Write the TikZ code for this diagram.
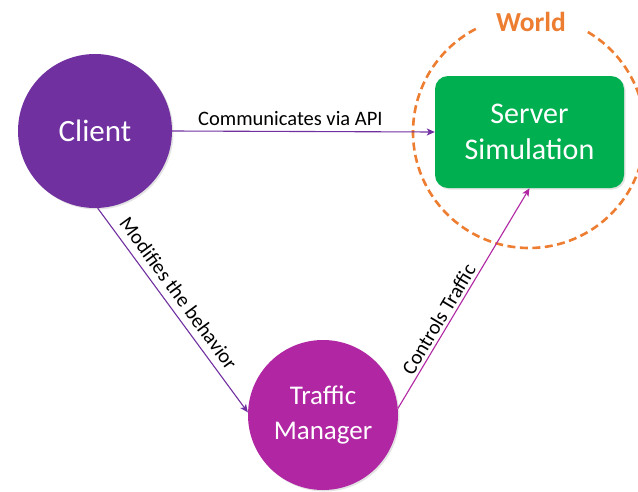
\documentclass[tikz,border=0pt]{standalone}
\usepackage{fontspec}
\setmainfont{Carlito}
\usetikzlibrary{arrows.meta,shadows}
\definecolor{cpurple}{RGB}{112,48,160}
\definecolor{tmmag}{RGB}{177,39,163}
\definecolor{sgreen}{RGB}{0,176,80}
\definecolor{worange}{RGB}{237,125,49}
\tikzset{
  shad/.style={drop shadow={opacity=0.22,shadow xshift=1.5pt,shadow yshift=-1.5pt}},
  bigcircle/.style={circle,inner sep=0pt,text=white,align=center,shad},
  conn/.style={line width=1.1pt,-{Stealth[length=8pt,width=7pt,inset=2pt]}},
  lbl/.style={font=\fontsize{20.5}{24}\selectfont,inner sep=2pt,text=black},
}
\begin{document}
\begin{tikzpicture}[x=1pt,y=-1pt]
\useasboundingbox[fill=white] (0,0) rectangle (638,491);
% world
\node[circle,draw=worange,line width=2.6pt,dash pattern=on 8pt off 4.5pt,minimum size=232pt,inner sep=0pt] (world) at (529,132) {};
\node[fill=white,text=worange,font=\bfseries\fontsize{27.5}{30}\selectfont,minimum width=107pt,minimum height=42pt,inner sep=0pt] (wlabel) at (531,22) {World};
% nodes
\node[bigcircle,fill=cpurple,minimum size=154pt,font=\fontsize{31}{36}\selectfont] (client) at (95,131) {Client};
\node[bigcircle,fill=tmmag,minimum size=150pt,font=\fontsize{27}{35}\selectfont] (tm) at (323,415) {Traffic\\Manager};
\node[rectangle,rounded corners=13pt,fill=sgreen,minimum width=189pt,minimum height=112pt,inner sep=0pt,text=white,align=center,shad,font=\fontsize{30}{36}\selectfont] (server) at (529.5,132) {Server\\Simulation};
% connectors
\draw[conn,cpurple] (client.east) -- node[lbl,above,pos=0.45,inner sep=5pt] {Communicates via API} (server.west);
\draw[conn,cpurple] (client.-88) -- node[lbl,sloped,above,pos=0.46,inner sep=7pt] {Modifies the behavior} (tm.178);
\draw[conn,tmmag] (tm.5) -- node[lbl,sloped,above,pos=0.38,inner sep=3pt] {Controls Traffic} (server.south);
\end{tikzpicture}
\end{document}
